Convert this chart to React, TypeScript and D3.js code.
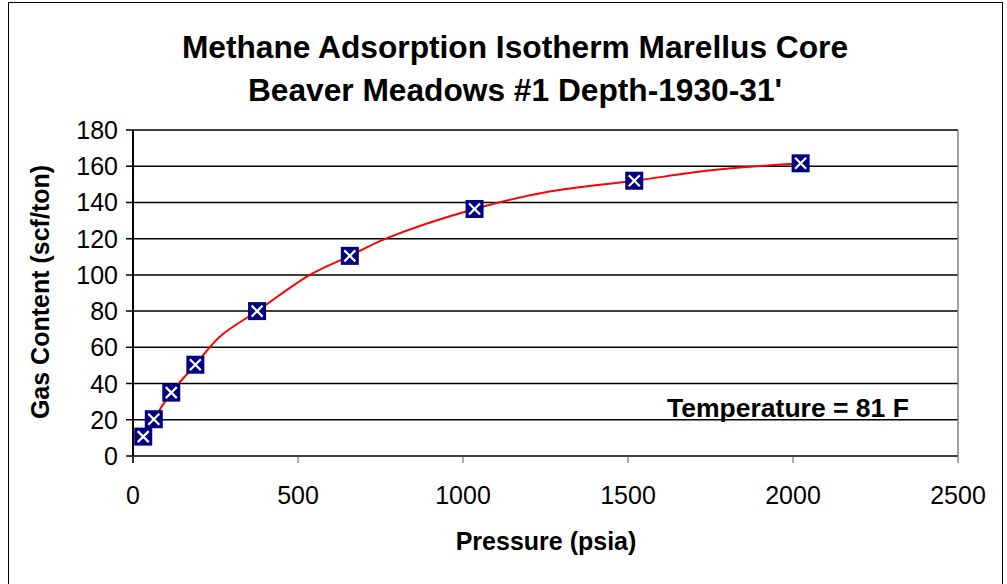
import React from "react";
import * as d3 from "d3";

const pressure = [31, 63, 116, 189, 376, 657, 1035, 1519, 2023];
const gasContent = [10.7, 20.3, 35, 50.4, 80, 110.5, 136.4, 152, 161.6];

const fitPressure = [31, 63, 116, 189, 263, 376, 536, 657, 768, 1035, 1262, 1519, 1767, 2023];
const fitGas = [10.7, 20.3, 35, 50.4, 65.9, 80, 100, 110.5, 120.2, 136.4, 146, 152, 158, 161.6];

const xTicks = [0, 500, 1000, 1500, 2000, 2500];
const yTicks = [0, 20, 40, 60, 80, 100, 120, 140, 160, 180];

const titleLines = ["Methane Adsorption Isotherm Marellus Core", "Beaver Meadows #1 Depth-1930-31'"];
const xTitle = "Pressure (psia)";
const yTitle = "Gas Content (scf/ton)";
const note = "Temperature = 81 F";

const W = 1007, H = 584;
const L = 133, R = 958, T = 130, B = 456;
const FONT = "Liberation Sans, Arial, sans-serif";

export default function App() {
  const x = d3.scaleLinear().domain([0, 2500]).range([L, R]);
  const y = d3.scaleLinear().domain([0, 180]).range([B, T]);
  const fit = fitPressure.map((p, i) => [p, fitGas[i]] as [number, number]);
  const line = d3.line<[number, number]>().x(d => x(d[0])).y(d => y(d[1])).curve(d3.curveCatmullRom.alpha(0.5));
  const m = 9;
  const c = 5.5;
  return (
    <svg width={W} height={H} style={{ position: "absolute", left: 0, top: 0, background: "#fff" }}>
      <rect x={8.5} y={2.5} width={994} height={600} fill="#fff" stroke="#000" strokeWidth={1} />
      {titleLines.map((t, i) => (
        <text key={i} x={515} y={58 + i * 43} textAnchor="middle" fontFamily={FONT} fontWeight="bold" fontSize={31.7}>{t}</text>
      ))}
      {yTicks.map(v => (
        <g key={v}>
          <line x1={L - 7} x2={R} y1={y(v)} y2={y(v)} stroke="#000" strokeWidth={1.5} />
          <text x={118} y={y(v) + 9} textAnchor="end" fontFamily={FONT} fontSize={25}>{v}</text>
        </g>
      ))}
      <line x1={R} x2={R} y1={T} y2={B} stroke="#808080" strokeWidth={1.5} />
      <line x1={L} x2={L} y1={T} y2={B + 7} stroke="#000" strokeWidth={2} />
      {xTicks.map(v => (
        <g key={v}>
          <line x1={x(v)} x2={x(v)} y1={B} y2={B + 7} stroke="#555" strokeWidth={1} />
          <text x={x(v)} y={504} textAnchor="middle" fontFamily={FONT} fontSize={25}>{v}</text>
        </g>
      ))}
      <path d={line(fit) || ""} fill="none" stroke="#ff0000" strokeWidth={2} />
      {pressure.map((p, i) => {
        const cx = x(p), cy = y(gasContent[i]);
        return (
          <g key={i}>
            <rect x={cx - m} y={cy - m} width={2 * m} height={2 * m} fill="#000080" />
            <line x1={cx - c} y1={cy - c} x2={cx + c} y2={cy + c} stroke="#fff" strokeWidth={2.2} />
            <line x1={cx - c} y1={cy + c} x2={cx + c} y2={cy - c} stroke="#fff" strokeWidth={2.2} />
          </g>
        );
      })}
      <text x={788} y={417} textAnchor="middle" fontFamily={FONT} fontWeight="bold" fontSize={26.5}>{note}</text>
      <text x={546} y={550} textAnchor="middle" fontFamily={FONT} fontWeight="bold" fontSize={25}>{xTitle}</text>
      <text transform={`translate(49,292) rotate(-90)`} textAnchor="middle" fontFamily={FONT} fontWeight="bold" fontSize={25}>{yTitle}</text>
    </svg>
  );
}
